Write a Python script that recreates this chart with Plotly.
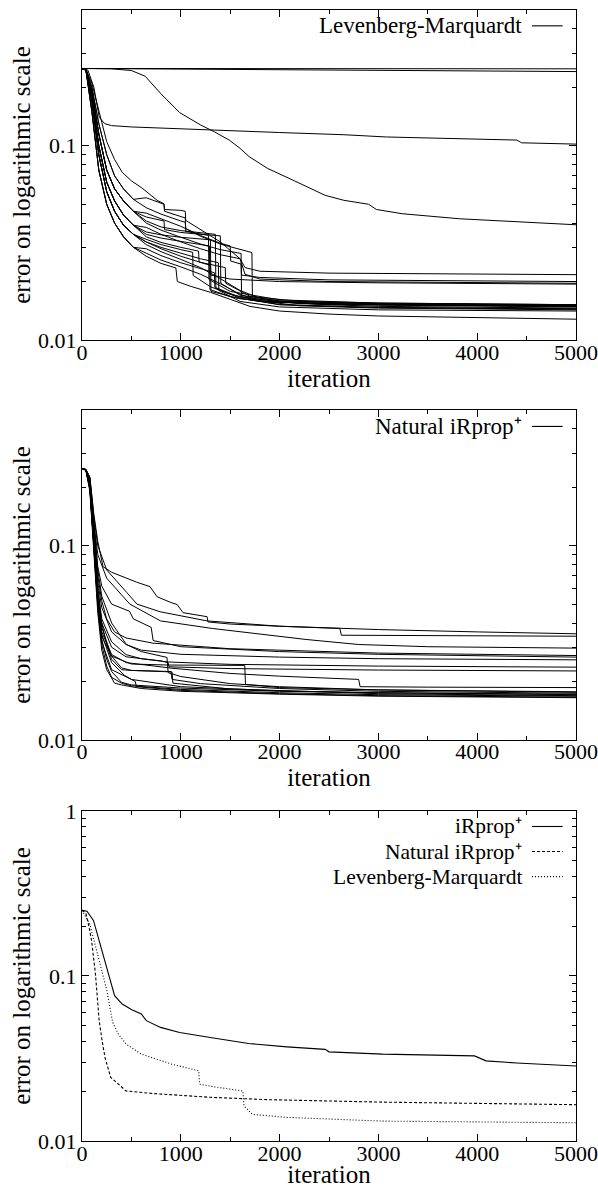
import plotly.graph_objects as go

# ---------------- data ----------------
ITER_TICKS = [0, 1000, 2000, 3000, 4000, 5000]
ITER_MINOR = [500, 1500, 2500, 3500, 4500]
ERR_TICKS_12 = [0.01, 0.1]
ERR_TICKS_3 = [0.01, 0.1, 1]
ERR_MINOR_12 = [0.02, 0.03, 0.04, 0.05, 0.06, 0.07, 0.08, 0.09, 0.2, 0.3, 0.4]
ERR_MINOR_3 = [0.02, 0.03, 0.04, 0.05, 0.06, 0.07, 0.08, 0.09,
               0.2, 0.3, 0.4, 0.5, 0.6, 0.7, 0.8, 0.9]

# --- panel 1 : Levenberg-Marquardt runs (iteration, error) ---
lm_flat_a = [(0, .25), (1000, .25), (2000, .25), (3000, .2495), (4000, .249), (5000, .249)]
lm_flat_b = [(0, .25), (300, .2495), (1000, .248), (2000, .246), (3000, .244), (4000, .242), (5000, .241)]
lm_slow = [(0, .25), (300, .249), (500, .244), (640, .228), (800, .185), (990, .148), (1200, .128),
           (1340, .118), (1490, .107), (1600, .097), (1690, .088), (1880, .0764), (2150, .066),
           (2460, .0556), (2650, .0524), (2900, .0500), (2980, .0470), (3240, .0447),
           (3820, .0421), (4400, .0405), (5000, .0392)]
lm_plateau = [(0, .25), (60, .245), (120, .2), (175, .14), (230, .13), (300, .127), (500, .125),
              (1000, .122), (1500, .119), (2000, .117), (2650, .114), (3050, .112), (3080, .111),
              (4400, .107), (4450, .1036), (5000, .102)]

lm_early_1 = [(0, .25), (40, .245), (100, .15), (170, .075), (250, .05), (330, .04), (420, .034), (520, .030)]
lm_early_2 = [(0, .25), (40, .245), (100, .17), (170, .09), (250, .058), (330, .046), (420, .039), (520, .035)]
lm_early_3 = [(0, .25), (40, .247), (100, .18), (170, .10), (250, .065), (330, .052), (420, .044), (520, .039)]
lm_early_4 = [(0, .25), (40, .247), (100, .19), (170, .115), (250, .075), (330, .06), (420, .052), (520, .046)]
lm_early_5 = [(0, .25), (40, .248), (100, .20), (170, .13), (250, .09), (330, .07), (420, .06), (520, .053)]

lm_c01 = lm_early_1 + [(650, .027), (800, .0248), (950, .0235), (965, .0200), (1100, .0189), (1300, .0176),
                       (1500, .0162), (1700, .0149), (2000, .0141), (2500, .0136), (3000, .0133),
                       (4000, .0130), (5000, .0128)]
lm_c02 = lm_early_1 + [(650, .028), (800, .0258), (1000, .0238), (1200, .0218), (1400, .0195), (1600, .0172),
                       (1800, .0159), (2200, .0150), (3000, .0146), (4000, .0144), (5000, .0143)]
lm_c03 = lm_early_2 + [(650, .031), (800, .0285), (1000, .026), (1200, .0236), (1400, .0207), (1600, .0180),
                       (1800, .0164), (2200, .0154), (3000, .0149), (4000, .0147), (5000, .0146)]
lm_c04 = lm_early_2 + [(650, .033), (800, .031), (1000, .0292), (1120, .0283), (1125, .0215), (1300, .0188),
                       (1500, .0172), (1800, .0159), (2500, .0152), (5000, .0148)]
lm_c05 = lm_early_3 + [(650, .035), (800, .0335), (1000, .0322), (1200, .0310), (1290, .0305), (1295, .0182),
                       (1500, .0167), (1800, .0158), (2500, .0153), (5000, .0149)]
lm_c06 = lm_early_3 + [(650, .036), (800, .0348), (1000, .0338), (1200, .0332), (1300, .0328), (1305, .0178),
                       (1600, .0163), (2000, .0156), (3000, .0152), (5000, .0150)]
lm_c07 = lm_early_4 + [(650, .041), (800, .0382), (1000, .0366), (1200, .0356), (1350, .0350), (1355, .0186),
                       (1600, .0166), (2000, .0158), (3000, .0154), (5000, .0151)]
lm_c08 = lm_early_4 + [(650, .043), (830, .041), (835, .037), (1000, .0358), (1200, .0350), (1400, .0344),
                       (1405, .0196), (1600, .0170), (2000, .0159), (3000, .0155), (5000, .0152)]
lm_c09 = lm_early_3 + [(650, .034), (800, .0318), (1000, .0300), (1180, .0287), (1185, .0252), (1450, .0236),
                       (1455, .0196), (1700, .0168), (2200, .0158), (3000, .0153), (5000, .0150)]
lm_c10 = lm_early_4 + [(650, .040), (800, .0368), (1000, .0338), (1200, .0312), (1400, .0292), (1610, .0279),
                       (1615, .0167), (2000, .0157), (3000, .0152), (5000, .0149)]
lm_c11 = lm_early_5 + [(650, .048), (800, .0445), (1000, .0410), (1045, .0404), (1050, .0375), (1200, .0342),
                       (1400, .0312), (1600, .0292), (1720, .0282), (1725, .0161), (2000, .0152),
                       (3000, .0147), (5000, .0144)]
lm_c12 = [(0, .25), (40, .248), (100, .21), (170, .15), (250, .105), (330, .085), (407, .073), (500, .066),
          (600, .061), (700, .0555), (760, .0524), (830, .0503), (835, .047), (1000, .0465), (1045, .046),
          (1050, .0413), (1200, .037), (1400, .032), (1600, .0262), (1650, .0236), (1800, .0226),
          (2500, .0221), (5000, .0217)]
lm_c13 = lm_early_4 + [(650, .045), (800, .042), (1000, .0385), (1200, .0345), (1400, .0315), (1500, .0305),
                       (1505, .0255), (1610, .0246), (1615, .0216), (1800, .0210), (2500, .0204), (5000, .0200)]
lm_c14 = lm_early_3 + [(650, .038), (800, .035), (1000, .032), (1200, .0295), (1400, .0275), (1600, .0262),
                       (1650, .0218), (1800, .0206), (2500, .0200), (5000, .0196)]
lm_c15 = lm_early_2 + [(650, .032), (800, .0295), (1000, .0270), (1200, .0250), (1300, .0242), (1305, .0216),
                       (1500, .0206), (2000, .0200), (3000, .0197), (5000, .0194)]
lm_c16 = lm_early_5 + [(650, .054), (830, .050), (835, .046), (1000, .0432), (1045, .0425), (1050, .0362),
                       (1280, .0346), (1285, .0205), (1500, .0178), (2000, .0161), (3000, .0155), (5000, .0152)]
lm_c17 = lm_early_1 + [(650, .0295), (800, .0272), (1000, .0250), (1200, .0232), (1340, .0222), (1345, .0186),
                       (1600, .0164), (2000, .0152), (3000, .0147), (5000, .0145)]
lm_c18 = lm_early_2 + [(650, .032), (800, .030), (1000, .028), (1200, .0262), (1380, .0250), (1385, .0180),
                       (1600, .0158), (2000, .0148), (3000, .0143), (5000, .0141)]

LM_RUNS = [lm_flat_a, lm_flat_b, lm_slow, lm_plateau, lm_c01, lm_c02, lm_c03, lm_c04, lm_c05, lm_c06,
           lm_c07, lm_c08, lm_c09, lm_c10, lm_c11, lm_c12, lm_c13, lm_c14, lm_c15, lm_c16, lm_c17, lm_c18]

# --- panel 2 : Natural iRprop+ runs ---
nat_c01 = [(0, .25), (40, .247), (80, .225), (120, .145), (160, .105), (213, .078), (300, .073), (415, .069),
           (550, .065), (689, .0615), (760, .0546), (900, .051), (963, .0498), (1023, .0452), (1266, .0431),
           (1275, .0405), (1500, .0395), (2000, .0385), (3000, .0370), (4000, .0360), (5000, .0352)]
nat_c02 = [(0, .25), (40, .247), (80, .225), (120, .14), (160, .10), (250, .075), (455, .0573), (557, .050),
           (790, .0457), (1266, .0410), (2000, .0385), (2610, .0375), (2625, .0346), (3000, .0345), (5000, .0342)]
nat_c03 = [(0, .25), (40, .246), (80, .22), (120, .13), (160, .09), (250, .068), (485, .050), (795, .041),
           (1318, .0375), (2268, .0329), (2800, .0310), (3500, .0302), (5000, .0297)]
nat_c04 = [(0, .25), (40, .246), (80, .215), (120, .12), (160, .07), (200, .052), (250, .042), (330, .036),
           (446, .0335), (717, .0315), (1492, .0295), (3000, .0280), (5000, .0272)]
nat_c05 = [(0, .25), (40, .246), (80, .215), (120, .125), (160, .078), (200, .062), (300, .050), (480, .046),
           (520, .042), (700, .038), (720, .0325), (1000, .0302), (2000, .0285), (3000, .0276), (5000, .0267)]
nat_c06 = [(0, .25), (40, .246), (80, .21), (120, .115), (160, .065), (200, .048), (300, .036), (446, .031),
           (600, .029), (1000, .0276), (2000, .0267), (3000, .0262), (5000, .02585)]
nat_c07 = [(0, .25), (40, .246), (80, .21), (120, .11), (160, .06), (200, .042), (300, .032), (446, .0275),
           (600, .0262), (872, .0252), (1500, .0245), (3000, .0240), (5000, .0237)]
nat_c08 = [(0, .25), (40, .245), (80, .205), (120, .105), (160, .055), (200, .040), (300, .030), (446, .0268),
           (800, .0255), (872, .0250), (880, .0238), (1500, .0233), (3000, .0229), (5000, .02266)]
nat_c09 = [(0, .25), (40, .245), (80, .20), (120, .10), (160, .052), (200, .036), (300, .0275), (450, .025),
           (911, .0234), (1500, .0220), (2000, .0213), (2800, .0205), (2815, .0188), (3500, .0187), (5000, .0186)]
nat_c10 = [(0, .25), (40, .245), (80, .20), (120, .10), (160, .050), (200, .034), (300, .027), (500, .0246),
           (872, .0243), (1647, .0242), (1655, .0193), (2000, .0186), (3000, .0181), (5000, .0177)]
nat_c11 = [(0, .25), (40, .245), (80, .21), (120, .11), (160, .060), (200, .040), (250, .031), (300, .026),
           (400, .023), (500, .0228), (900, .0225), (911, .0205), (1200, .0195), (2000, .0184), (3000, .0178),
           (5000, .0174)]
nat_c12 = [(0, .25), (40, .245), (80, .20), (120, .10), (160, .050), (200, .033), (250, .026), (300, .0225),
           (400, .0198), (500, .0192), (1000, .0185), (2000, .0178), (3000, .0175), (5000, .0171)]
nat_c13 = [(0, .25), (40, .244), (80, .195), (120, .095), (160, .048), (200, .031), (250, .024), (300, .021),
           (400, .0196), (500, .0190), (1000, .0182), (2000, .0175), (3000, .0171), (5000, .0168)]
nat_c14 = [(0, .25), (40, .244), (80, .19), (120, .09), (160, .045), (200, .029), (250, .023), (330, .0196),
           (400, .0192), (600, .0184), (1000, .0178), (2000, .0172), (3000, .0168), (5000, .0165)]
nat_c15 = [(0, .25), (40, .246), (80, .215), (120, .125), (160, .075), (200, .055), (300, .040), (450, .031),
           (600, .0285), (860, .0266), (872, .0222), (1000, .0212), (1500, .0195), (2000, .0188), (3000, .0181),
           (5000, .0176)]
nat_c16 = [(0, .25), (40, .245), (80, .205), (120, .105), (160, .055), (200, .038), (300, .027), (400, .0235),
           (500, .0228), (911, .0224), (920, .0196), (1500, .0183), (3000, .0173), (5000, .0169)]
nat_c17 = [(0, .25), (40, .245), (80, .20), (120, .10), (160, .052), (200, .035), (300, .025), (430, .0215),
           (500, .0205), (1000, .0188), (2000, .0179), (3000, .0175), (5000, .0172)]
nat_c18 = [(0, .25), (40, .245), (80, .195), (120, .095), (160, .050), (200, .032), (300, .023), (500, .0205),
           (540, .0200), (550, .0188), (1000, .0180), (2000, .0173), (3000, .0169), (5000, .0166)]

NAT_RUNS = [nat_c01, nat_c02, nat_c03, nat_c04, nat_c05, nat_c06, nat_c07, nat_c08, nat_c09,
            nat_c10, nat_c11, nat_c12, nat_c13, nat_c14, nat_c15, nat_c16, nat_c17, nat_c18]

# --- panel 3 : mean curves ---
irprop_mean = [(0, .25), (50, .247), (116, .217), (174, .164), (252, .113), (330, .076), (407, .0676),
               (504, .0625), (601, .0588), (651, .0536), (795, .0488), (988, .0455), (1298, .0424),
               (1686, .0390), (2074, .0372), (2461, .0359), (2500, .0347), (3043, .0336), (3973, .0328),
               (4089, .0306), (4400, .0297), (5000, .0285)]
natural_mean = [(0, .25), (39, .24), (70, .2), (97, .164), (136, .1028), (174, .0536), (205, .040), (233, .032),
                (291, .0243), (368, .0221), (446, .0201), (717, .0194), (1298, .0184), (1880, .0178),
                (3043, .0172), (5000, .0166)]
lm_mean = [(0, .25), (78, .207), (174, .124), (252, .0815), (310, .0524), (368, .0445), (446, .0387),
           (601, .0336), (911, .0292), (1182, .0266), (1190, .0221), (1337, .0213), (1628, .0201),
           (1640, .0163), (1725, .0145), (2074, .0139), (3043, .0132), (5000, .0129)]

MEAN_NAMES = ["iRprop\u207a", "Natural iRprop\u207a", "Levenberg-Marquardt"]
MEAN_CURVES = [irprop_mean, natural_mean, lm_mean]
MEAN_DASH = ["solid", "3px,2px", "1px,2px"]

# ---------------- figure ----------------
FONT = "Liberation Serif"
TICK_SIZE = 22
TITLE_SIZE = 25
KEY_SIZE = 23
KEY_SIZE_3 = 21.5
W, H = 598, 1188
ML, MR, MT, MB = 82, 22, 10, 47

domains = [[0.7082, 1.0], [0.3546, 0.6464], [0.0, 0.2918]]

fig = go.Figure()


def add_curve(c, xa, ya, dash="solid", width=1.0):
    fig.add_trace(go.Scatter(x=[p[0] for p in c], y=[p[1] for p in c], mode="lines",
                             line=dict(color="black", width=width, dash=dash),
                             xaxis=xa, yaxis=ya, showlegend=False, hoverinfo="skip"))


for c in LM_RUNS:
    add_curve(c, "x", "y")
for c in NAT_RUNS:
    add_curve(c, "x2", "y2")
for c, d in zip(MEAN_CURVES, MEAN_DASH):
    add_curve(c, "x3", "y3", dash=d, width=1.1)

axis_common = dict(showline=True, linecolor="black", linewidth=1.3, mirror="ticks",
                   ticks="inside", ticklen=7, tickwidth=1, tickcolor="black",
                   showgrid=False, zeroline=False, automargin=False,
                   tickfont=dict(family=FONT, size=TICK_SIZE, color="black"))

layout = dict(width=W, height=H, margin=dict(l=ML, r=MR, t=MT, b=MB, autoexpand=False),
              paper_bgcolor="white", plot_bgcolor="white",
              font=dict(family=FONT, size=TICK_SIZE, color="black"), showlegend=False)

for i in range(3):
    sx = "" if i == 0 else str(i + 1)
    yt = ERR_TICKS_3 if i == 2 else ERR_TICKS_12
    ym = ERR_MINOR_3 if i == 2 else ERR_MINOR_12
    yr = [-2, 0] if i == 2 else [-2, -0.301]
    layout["xaxis" + sx] = dict(axis_common, domain=[0, 1], anchor="y" + sx, range=[0, 5000],
                                tickmode="array", tickvals=ITER_TICKS,
                                ticktext=[str(v) for v in ITER_TICKS], ticklabelstandoff=-8,
                                minor=dict(tickmode="array", tickvals=ITER_MINOR, ticks="inside",
                                           ticklen=4, tickcolor="black", showgrid=False),
                                title=dict(text="iteration", standoff=0,
                                           font=dict(family=FONT, size=TITLE_SIZE)))
    layout["yaxis" + sx] = dict(axis_common, domain=domains[i], anchor="x" + sx, type="log", range=yr,
                                tickmode="array", tickvals=yt, ticktext=[str(v) for v in yt],
                                minor=dict(tickmode="array", tickvals=ym, ticks="inside",
                                           ticklen=4, tickcolor="black", showgrid=False),
                                title=dict(text="error on logarithmic scale", standoff=0,
                                           font=dict(family=FONT, size=TITLE_SIZE)))

fig.update_layout(**layout)

# gnuplot-style keys: right-aligned text, line sample to its right
keys = [("x", "y", KEY_SIZE, [("Levenberg-Marquardt", "solid", 0.952)]),
        ("x2", "y2", KEY_SIZE, [("Natural iRprop\u207a", "solid", 0.950)]),
        ("x3", "y3", KEY_SIZE_3, [(MEAN_NAMES[0], MEAN_DASH[0], 0.953),
                                  (MEAN_NAMES[1], MEAN_DASH[1], 0.877),
                                  (MEAN_NAMES[2], MEAN_DASH[2], 0.801)])]
for xa, ya, fsize, entries in keys:
    for text, dash, yy in entries:
        fig.add_annotation(x=0.892, y=yy, xref=xa + " domain", yref=ya + " domain", text=text,
                           showarrow=False, xanchor="right", yanchor="middle", borderpad=0,
                           font=dict(family=FONT, size=fsize, color="black"))
        fig.add_shape(type="line", xref=xa + " domain", yref=ya + " domain",
                      x0=0.911, x1=0.973, y0=yy, y1=yy,
                      line=dict(color="black", width=1.1, dash=dash))

fig.write_html("out.html", config={"displayModeBar": False},
               post_script="document.body.style.margin='0px';document.body.style.overflow='hidden';")
